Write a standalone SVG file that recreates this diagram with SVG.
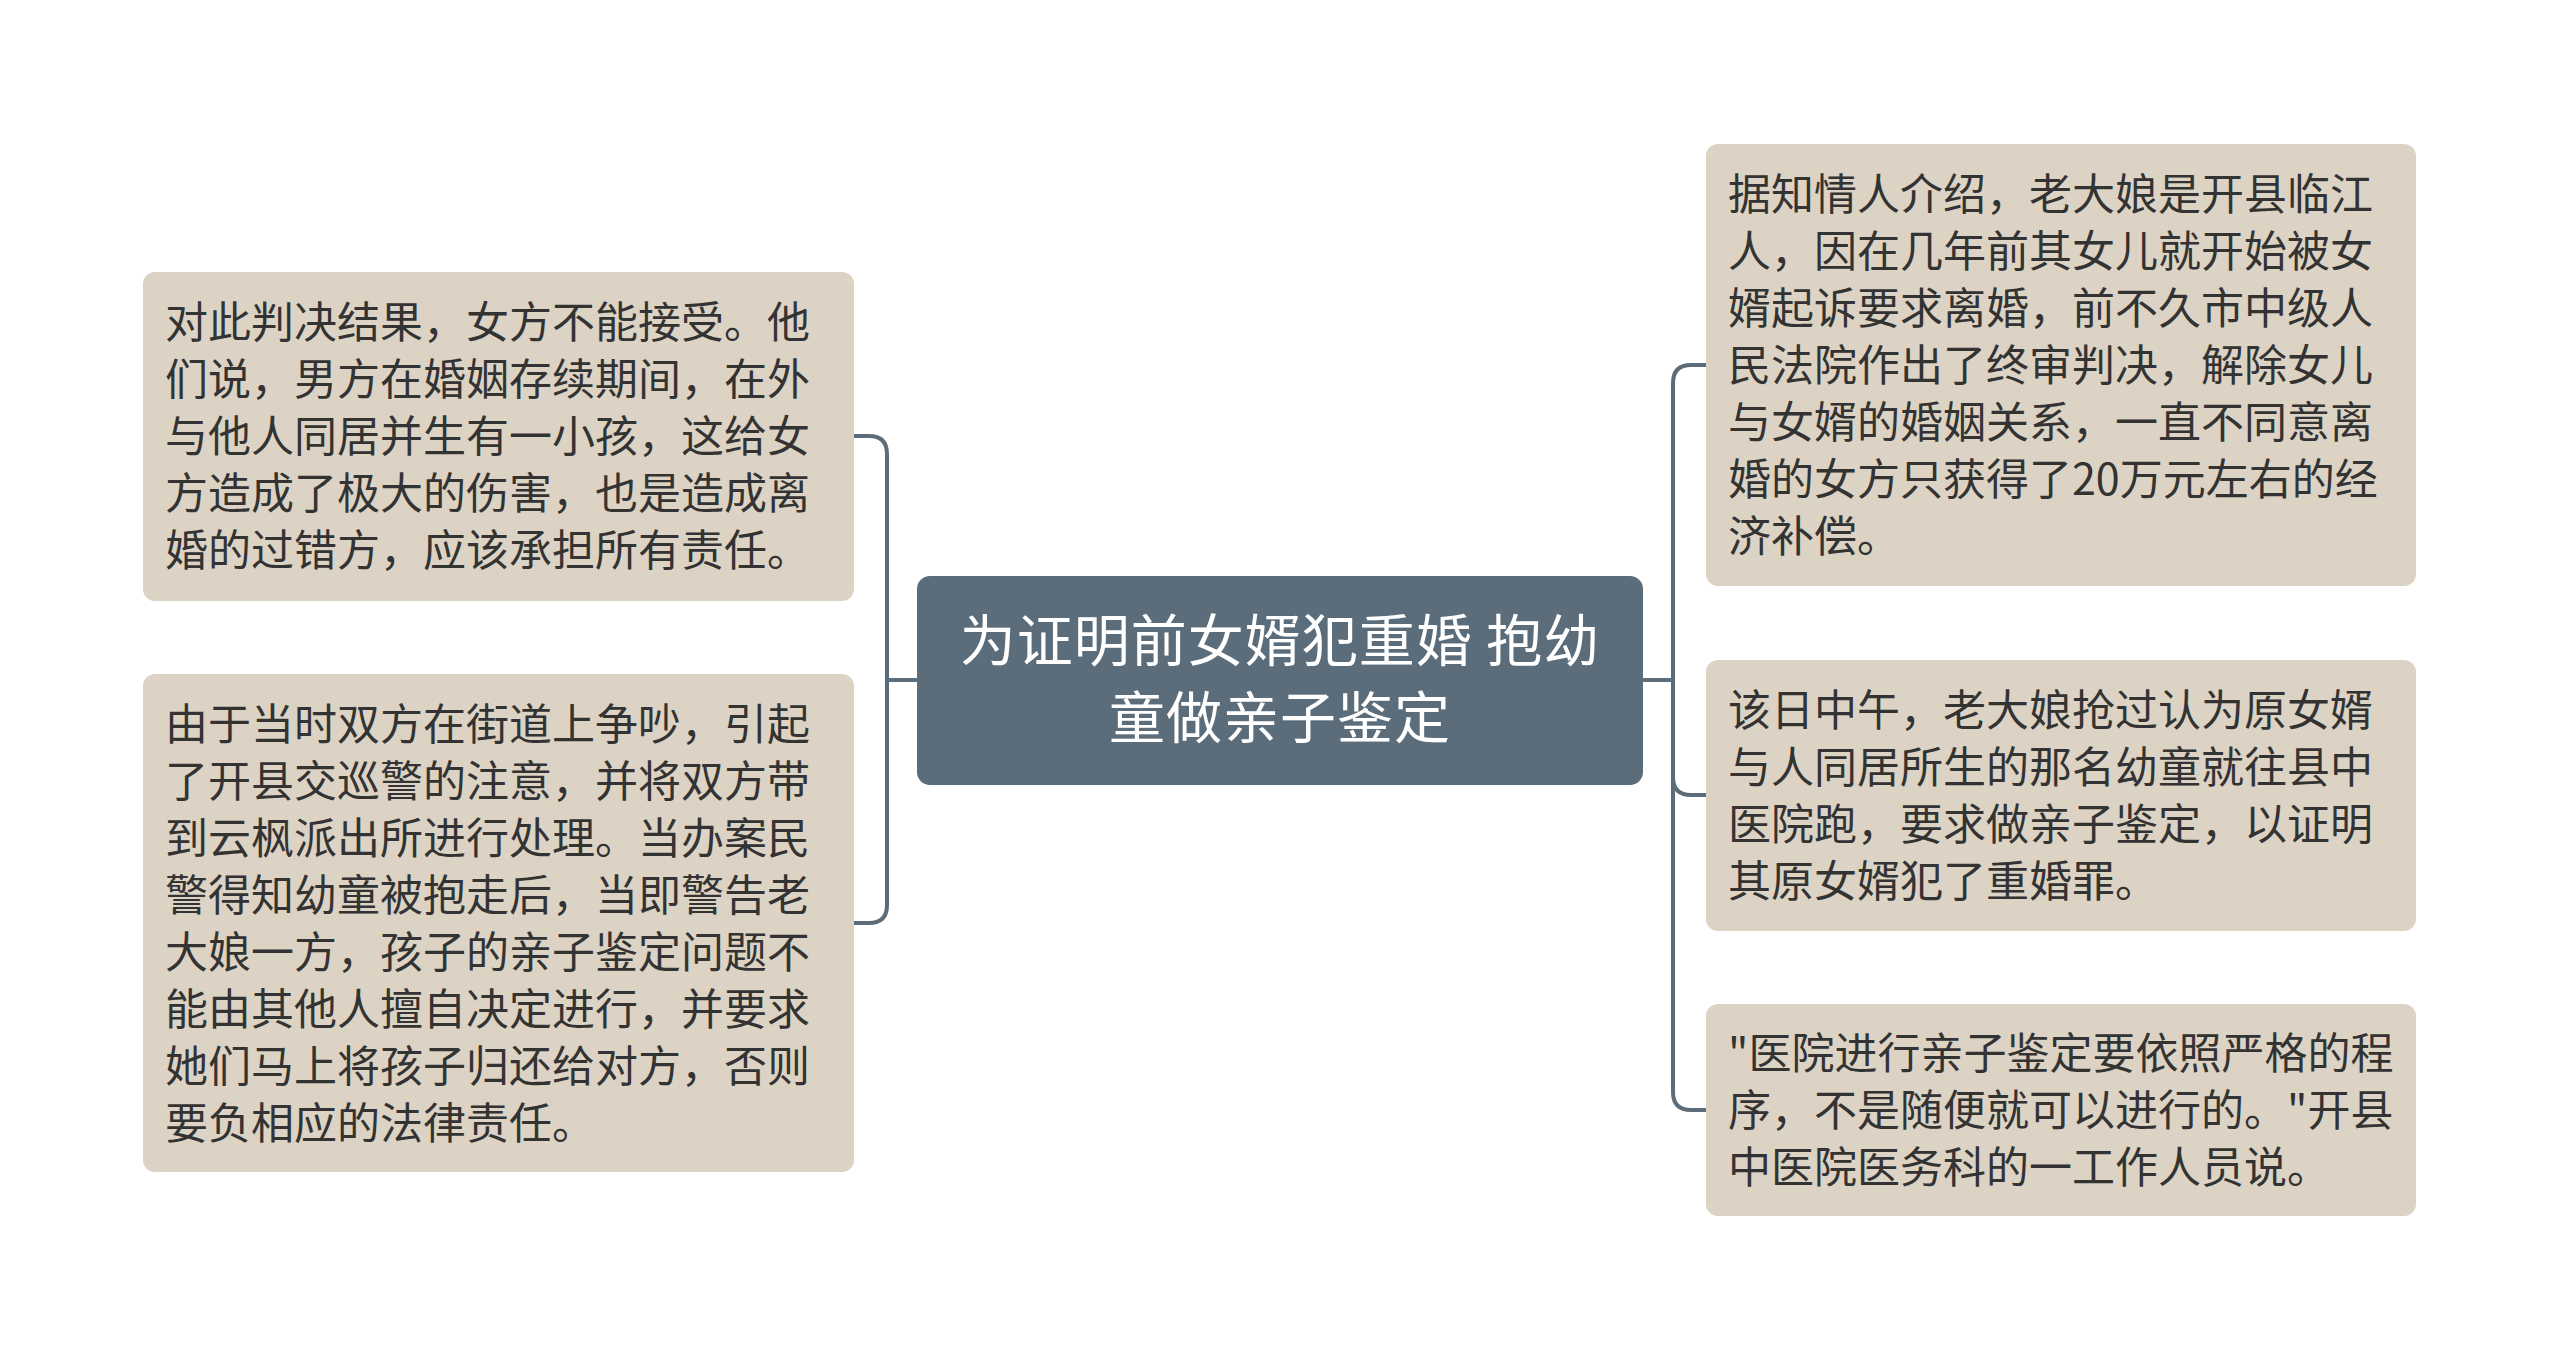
<svg xmlns="http://www.w3.org/2000/svg" width="2560" height="1361" viewBox="0 0 2560 1361">
<style>
.box{fill:#ddd3c4}
.root{fill:#5b6d7a}
.t{font-family:"Noto Sans CJK SC","Noto Sans",sans-serif;font-size:43px;fill:#333333}
.rt{font-family:"Noto Sans CJK SC","Noto Sans",sans-serif;font-size:56px;fill:#ffffff;text-anchor:middle}
.c{fill:none;stroke:#5b6d7a;stroke-width:4;stroke-linecap:round}
</style>
<rect width="2560" height="1361" fill="#ffffff"/>
<g id="connectors">
<path class="c" d="M917,680 H887"/>
<path class="c" d="M854,436 H869 Q887,436 887,454 V905 Q887,923 869,923 H854"/>
<path class="c" d="M1643,680 H1673"/>
<path class="c" d="M1706,365 H1691 Q1673,365 1673,383 V1092 Q1673,1110 1691,1110 H1706"/>
<path class="c" d="M1673,777 Q1673,795 1691,795 H1706"/>
</g>
<g id="root">
<rect class="root" x="917" y="576" width="726" height="209" rx="13"/>
<text class="rt" x="1280" y="661" letter-spacing="1">为证明前女婿犯重婚 抱幼</text>
<text class="rt" x="1280" y="738" letter-spacing="1">童做亲子鉴定</text>
</g>
<g id="left1">
<rect class="box" x="143" y="272" width="711" height="329" rx="12"/>
<text class="t" x="165" y="338">对此判决结果，女方不能接受。他</text>
<text class="t" x="165" y="395">们说，男方在婚姻存续期间，在外</text>
<text class="t" x="165" y="452">与他人同居并生有一小孩，这给女</text>
<text class="t" x="165" y="509">方造成了极大的伤害，也是造成离</text>
<text class="t" x="165" y="566">婚的过错方，应该承担所有责任。</text>
</g>
<g id="left2">
<rect class="box" x="143" y="674" width="711" height="498" rx="12"/>
<text class="t" x="165" y="740">由于当时双方在街道上争吵，引起</text>
<text class="t" x="165" y="797">了开县交巡警的注意，并将双方带</text>
<text class="t" x="165" y="854">到云枫派出所进行处理。当办案民</text>
<text class="t" x="165" y="911">警得知幼童被抱走后，当即警告老</text>
<text class="t" x="165" y="968">大娘一方，孩子的亲子鉴定问题不</text>
<text class="t" x="165" y="1025">能由其他人擅自决定进行，并要求</text>
<text class="t" x="165" y="1082">她们马上将孩子归还给对方，否则</text>
<text class="t" x="165" y="1139">要负相应的法律责任。</text>
</g>
<g id="right1">
<rect class="box" x="1706" y="144" width="710" height="442" rx="12"/>
<text class="t" x="1728" y="210">据知情人介绍，老大娘是开县临江</text>
<text class="t" x="1728" y="267">人，因在几年前其女儿就开始被女</text>
<text class="t" x="1728" y="324">婿起诉要求离婚，前不久市中级人</text>
<text class="t" x="1728" y="381">民法院作出了终审判决，解除女儿</text>
<text class="t" x="1728" y="438">与女婿的婚姻关系，一直不同意离</text>
<text class="t" x="1728" y="495">婚的女方只获得了20万元左右的经</text>
<text class="t" x="1728" y="552">济补偿。</text>
</g>
<g id="right2">
<rect class="box" x="1706" y="660" width="710" height="271" rx="12"/>
<text class="t" x="1728" y="726">该日中午，老大娘抢过认为原女婿</text>
<text class="t" x="1728" y="783">与人同居所生的那名幼童就往县中</text>
<text class="t" x="1728" y="840">医院跑，要求做亲子鉴定，以证明</text>
<text class="t" x="1728" y="897">其原女婿犯了重婚罪。</text>
</g>
<g id="right3">
<rect class="box" x="1706" y="1004" width="710" height="212" rx="12"/>
<text class="t" x="1728" y="1069">"医院进行亲子鉴定要依照严格的程</text>
<text class="t" x="1728" y="1126">序，不是随便就可以进行的。"开县</text>
<text class="t" x="1728" y="1183">中医院医务科的一工作人员说。</text>
</g>
</svg>
